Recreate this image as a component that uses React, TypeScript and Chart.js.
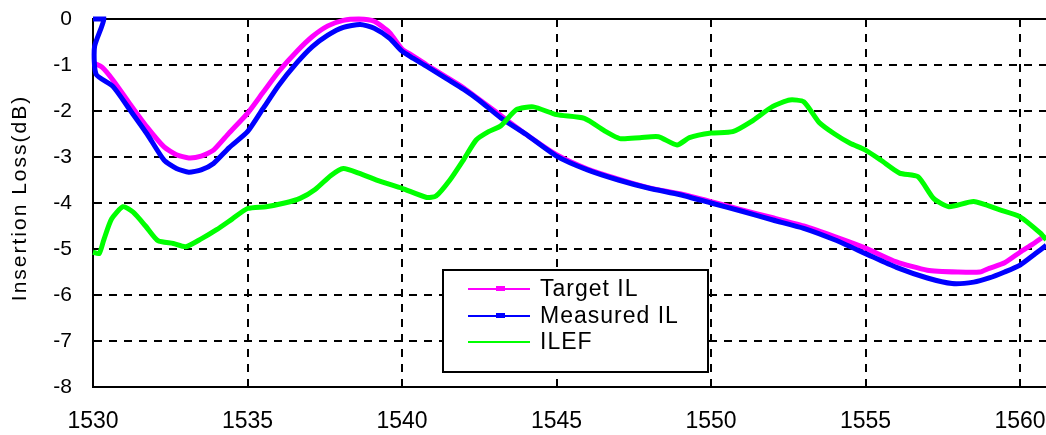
import React, { useEffect, useRef } from "react";
import { Chart, registerables } from "chart.js";

Chart.register(...registerables);

const FONT = '"Liberation Sans", Arial, Helvetica, sans-serif';

// Wavelength (nm) / insertion loss (dB)
const targetX = [1530.0, 1530.3, 1530.65, 1531.2, 1531.75, 1532.3, 1532.7, 1533.1, 1533.5, 1533.9, 1534.4, 1535.0, 1535.5, 1536.0, 1536.6, 1537.1, 1537.6, 1538.1, 1538.6, 1539.1, 1539.6, 1540.0, 1540.35, 1540.8, 1541.45, 1542.0, 1542.5, 1543.2, 1544.0, 1545.0, 1546.0, 1547.0, 1548.0, 1549.0, 1550.0, 1551.0, 1552.0, 1553.0, 1554.0, 1555.0, 1556.0, 1557.0, 1558.0, 1558.7, 1559.0, 1559.5, 1560.0, 1560.4, 1560.7];
const targetY = [-0.95, -1.05, -1.33, -1.85, -2.35, -2.78, -2.95, -3.02, -2.98, -2.85, -2.48, -2.05, -1.6, -1.15, -0.7, -0.38, -0.15, -0.03, 0.0, -0.05, -0.3, -0.65, -0.8, -1.0, -1.27, -1.5, -1.75, -2.1, -2.5, -2.95, -3.26, -3.48, -3.67, -3.8, -3.97, -4.15, -4.32, -4.5, -4.73, -4.98, -5.28, -5.46, -5.5, -5.5, -5.42, -5.3, -5.07, -4.9, -4.76];

const measuredX = [1530.0, 1530.35, 1530.05, 1530.1, 1530.65, 1531.2, 1531.75, 1532.3, 1532.7, 1533.1, 1533.5, 1533.9, 1534.4, 1535.0, 1535.5, 1536.0, 1536.6, 1537.1, 1537.6, 1538.1, 1538.65, 1539.1, 1539.6, 1540.0, 1540.35, 1540.8, 1541.45, 1542.0, 1542.5, 1543.2, 1544.0, 1545.0, 1546.0, 1547.0, 1548.0, 1549.0, 1550.0, 1551.0, 1552.0, 1553.0, 1554.0, 1555.0, 1556.0, 1557.0, 1557.8, 1558.5, 1559.0, 1559.5, 1560.0, 1560.5, 1560.85];
const measuredY = [0.0, 0.0, -0.6, -1.2, -1.47, -1.98, -2.5, -3.07, -3.25, -3.33, -3.28, -3.14, -2.8, -2.45, -1.95, -1.45, -0.95, -0.6, -0.35, -0.18, -0.12, -0.2, -0.42, -0.7, -0.85, -1.03, -1.3, -1.53, -1.77, -2.15, -2.5, -2.98, -3.28, -3.5, -3.68, -3.82, -4.0, -4.18, -4.37, -4.55, -4.8, -5.1, -5.4, -5.63, -5.75, -5.72, -5.63, -5.5, -5.35, -5.1, -4.92];

const ilefX = [1530.0, 1530.2, 1530.35, 1530.6, 1530.97, 1531.3, 1531.7, 1532.1, 1532.6, 1533.0, 1533.5, 1534.0, 1534.5, 1535.0, 1535.6, 1536.2, 1536.7, 1537.2, 1537.7, 1538.1, 1538.6, 1539.3, 1540.0, 1540.8, 1541.1, 1541.55, 1542.0, 1542.4, 1542.8, 1543.2, 1543.7, 1544.25, 1545.0, 1545.9, 1546.6, 1547.05, 1547.7, 1548.3, 1548.9, 1549.3, 1550.0, 1550.7, 1551.3, 1552.0, 1552.55, 1553.0, 1553.5, 1554.0, 1554.5, 1555.0, 1555.5, 1556.1, 1556.7, 1557.2, 1557.7, 1558.5, 1559.35, 1560.0, 1560.65, 1560.85];
const ilefY = [-5.07, -5.1, -4.8, -4.35, -4.08, -4.2, -4.5, -4.82, -4.88, -4.95, -4.78, -4.58, -4.35, -4.12, -4.08, -4.0, -3.9, -3.7, -3.4, -3.25, -3.35, -3.53, -3.68, -3.88, -3.85, -3.5, -3.05, -2.63, -2.45, -2.32, -1.97, -1.91, -2.08, -2.16, -2.45, -2.6, -2.58, -2.56, -2.74, -2.58, -2.48, -2.45, -2.23, -1.9, -1.76, -1.8, -2.25, -2.5, -2.7, -2.85, -3.07, -3.35, -3.43, -3.9, -4.08, -3.97, -4.15, -4.3, -4.65, -4.8];

const seriesNames = ["Target IL", "Measured IL", "ILEF"];
const seriesColors = ["#ff00ff", "#0000ff", "#00ff00"];

const xMin = 1530;
const xMax = 1560.84;
const yMin = -8;
const yMax = 0;
const yTitle = "Insertion Loss(dB)";

const toPoints = (xs: number[], ys: number[]) => xs.map((x, i) => ({ x, y: ys[i] }));

export default function App() {
  const ref = useRef<HTMLCanvasElement>(null);

  useEffect(() => {
    if (!ref.current) return;

    const topBorder = {
      id: "topBorder",
      beforeDatasetsDraw(chart: any) {
        const { ctx, chartArea } = chart;
        ctx.save();
        ctx.strokeStyle = "#000";
        ctx.lineWidth = 2;
        ctx.setLineDash([]);
        ctx.beginPath();
        ctx.moveTo(chartArea.left, chartArea.top);
        ctx.lineTo(chartArea.right, chartArea.top);
        ctx.stroke();
        ctx.restore();
      },
    };

    const yTitlePlugin = {
      id: "yTitle",
      afterDraw(chart: any) {
        const { ctx, chartArea } = chart;
        ctx.save();
        ctx.translate(20, (chartArea.top + chartArea.bottom) / 2 - 5);
        ctx.rotate(-Math.PI / 2);
        ctx.font = `21px ${FONT}`;
        (ctx as any).letterSpacing = "2px";
        ctx.fillStyle = "#000";
        ctx.textAlign = "center";
        ctx.textBaseline = "middle";
        ctx.fillText(yTitle, 0, 0);
        ctx.restore();
      },
    };

    const boxLegend = {
      id: "boxLegend",
      afterDraw(chart: any) {
        const { ctx } = chart;
        const bx = 443, by = 270, bw = 265, bh = 102;
        ctx.save();
        ctx.fillStyle = "#fff";
        ctx.fillRect(bx, by, bw, bh);
        ctx.strokeStyle = "#000";
        ctx.lineWidth = 2;
        ctx.setLineDash([]);
        ctx.strokeRect(bx, by, bw, bh);
        const rows = [289, 316, 342];
        ctx.font = `23px ${FONT}`;
        (ctx as any).letterSpacing = "1px";
        ctx.textBaseline = "middle";
        ctx.textAlign = "left";
        seriesNames.forEach((name, i) => {
          const y = rows[i];
          ctx.strokeStyle = seriesColors[i];
          ctx.lineWidth = 2;
          ctx.beginPath();
          ctx.moveTo(468, y);
          ctx.lineTo(530, y);
          ctx.stroke();
          if (i < 2) {
            ctx.fillStyle = seriesColors[i];
            ctx.fillRect(496, y - 3, 9, 5);
          }
          ctx.fillStyle = "#000";
          ctx.fillText(name, 540, y + 1);
        });
        ctx.restore();
      },
    };

    const xs = [targetX, measuredX, ilefX];
    const ys = [targetY, measuredY, ilefY];
    const orders = [2, 1, 0];

    const chart = new Chart(ref.current, {
      type: "line",
      data: {
        datasets: seriesNames.map((name, i) => ({
          label: name,
          data: toPoints(xs[i], ys[i]),
          borderColor: seriesColors[i],
          backgroundColor: seriesColors[i],
          borderWidth: 5,
          pointRadius: 0,
          tension: 0.2,
          fill: false,
          order: orders[i],
          clip: 4,
        })),
      },
      options: {
        animation: false,
        responsive: false,
        maintainAspectRatio: false,
        layout: { padding: { top: 19, right: 0, bottom: 0, left: 0 } },
        plugins: {
          legend: { display: false },
          tooltip: { enabled: false },
        },
        scales: {
          x: {
            type: "linear",
            min: xMin,
            max: xMax,
            afterFit(scale: any) {
              scale.height = 48;
              scale.paddingRight = 0;
              scale.paddingLeft = 0;
            },
            ticks: {
              stepSize: 5,
              includeBounds: false,
              autoSkip: false,
              maxRotation: 0,
              padding: 21,
              color: "#000",
              font: { family: FONT, size: 23 },
              callback: (v: any) => String(v),
            },
            grid: {
              color: "#000",
              lineWidth: 2,
              drawTicks: false,
            },
            border: { display: true, color: "#000", width: 2, dash: [8, 7] },
          },
          y: {
            type: "linear",
            min: yMin,
            max: yMax,
            afterFit(scale: any) {
              scale.width = 93;
              scale.paddingTop = 0;
              scale.paddingBottom = 0;
            },
            ticks: {
              stepSize: 1,
              padding: 21,
              color: "#000",
              font: { family: FONT, size: 21 },
            },
            grid: {
              color: "#000",
              lineWidth: 2,
              drawTicks: false,
            },
            border: { display: true, color: "#000", width: 2, dash: [8, 7] },
            title: { display: false },
          },
        },
      },
      plugins: [topBorder, boxLegend, yTitlePlugin],
    });

    return () => chart.destroy();
  }, []);

  return (
    <div style={{ position: "absolute", left: 0, top: 0, width: 1046, height: 435, background: "#fff" }}>
      <canvas ref={ref} width={1046} height={435} style={{ display: "block" }} />
    </div>
  );
}
